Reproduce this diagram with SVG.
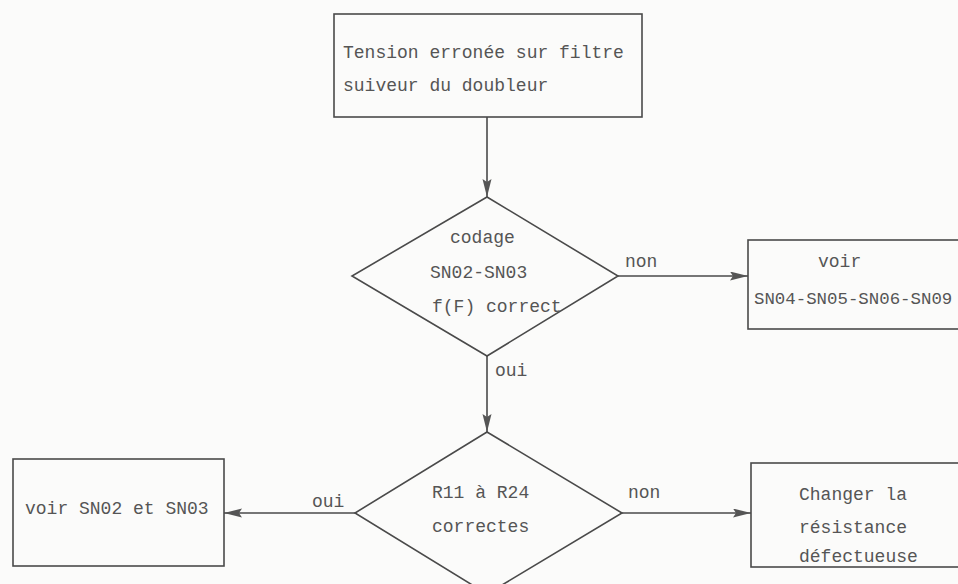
<svg xmlns="http://www.w3.org/2000/svg" width="958" height="584" viewBox="0 0 958 584">
<defs>
<marker id="arr" markerUnits="userSpaceOnUse" markerWidth="20" markerHeight="10" refX="18" refY="4.5" orient="auto">
<path d="M0,0 L18,4.5 L0,9 L3,4.5 Z" fill="#555"/>
</marker>
<style>
.box{fill:none;stroke:#4a4a4a;stroke-width:1.6}
.ln{fill:none;stroke:#4a4a4a;stroke-width:1.6}
text{font-family:"Liberation Mono","DejaVu Sans Mono",monospace;font-size:18px;fill:#555}
.sm{font-size:17.4px}
</style>
</defs>
<rect width="958" height="584" fill="#fbfbfa"/>
<g id="connectors">
<line class="ln" x1="487" y1="117" x2="487" y2="197" marker-end="url(#arr)"/>
<line class="ln" x1="618" y1="276" x2="748" y2="276" marker-end="url(#arr)"/>
<text x="625" y="267">non</text>
<line class="ln" x1="487" y1="356" x2="487" y2="432" marker-end="url(#arr)"/>
<text x="495" y="376">oui</text>
<line class="ln" x1="355" y1="513" x2="224" y2="513" marker-end="url(#arr)"/>
<text x="312" y="507">oui</text>
<line class="ln" x1="622" y1="513" x2="751" y2="513" marker-end="url(#arr)"/>
<text x="628" y="498">non</text>
</g>
<g id="start">
<rect class="box" x="334" y="14" width="308" height="103"/>
<text x="343" y="58">Tension erronée sur filtre</text>
<text x="343" y="91">suiveur du doubleur</text>
</g>
<g id="decision1">
<polygon class="box" points="487,197 618,276 487,356 352,276"/>
<text x="450" y="243">codage</text>
<text x="430" y="278">SN02-SN03</text>
<text x="432" y="312">f(F) correct</text>
</g>
<g id="voirSN04">
<rect class="box" x="748" y="240" width="232" height="89"/>
<text x="818" y="267">voir</text>
<text class="sm" x="754" y="304">SN04-SN05-SN06-SN09</text>
</g>
<g id="decision2">
<polygon class="box" points="487,432 622,513 487,594 355,513"/>
<text x="432" y="498">R11 à R24</text>
<text x="432" y="532">correctes</text>
</g>
<g id="voirSN02">
<rect class="box" x="13" y="459" width="211" height="107"/>
<text x="25" y="514">voir SN02 et SN03</text>
</g>
<g id="changer">
<rect class="box" x="751" y="463" width="232" height="104"/>
<text x="799" y="500">Changer la</text>
<text x="799" y="533">résistance</text>
<text x="799" y="562">défectueuse</text>
</g>
</svg>
